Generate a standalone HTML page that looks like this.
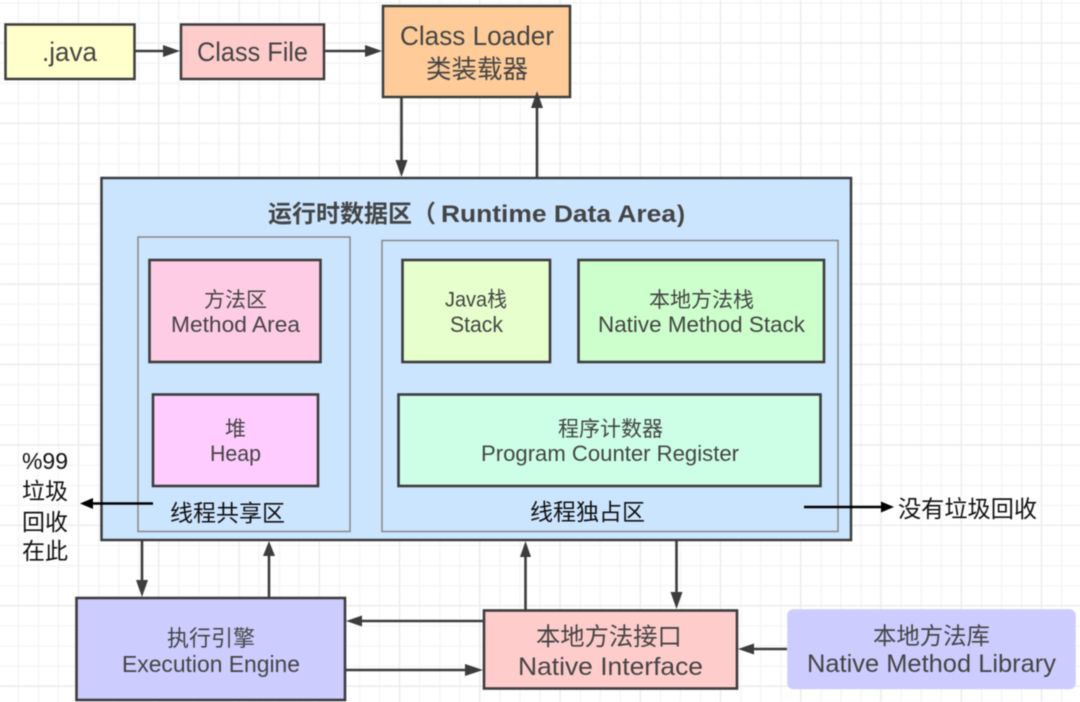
<!DOCTYPE html>
<html><head><meta charset="utf-8">
<style>
html,body{margin:0;padding:0;background:#fff;width:1080px;height:702px;overflow:hidden}
svg{display:block;filter:blur(.45px)}
text{font-family:"Liberation Sans","Noto Sans CJK SC",sans-serif;fill:#444;text-anchor:start}
.k{fill:#111}
</style></head><body>
<svg width="1080" height="702" viewBox="0 0 1080 702" xmlns="http://www.w3.org/2000/svg">
<defs>
<pattern id="g" patternUnits="userSpaceOnUse" x="0" y="0" width="80.25" height="80.4">
<path d="M18.5 0V80.4M38.5 0V80.4M58.5 0V80.4M0 3H80.25M0 23H80.25M0 63H80.25M0 83H80.25" stroke="#f5f5f5" stroke-width="1.5" fill="none"/>
<path d="M78.5 0V80.4M0 43H80.25" stroke="#ececec" stroke-width="1.5" fill="none"/>
</pattern>
</defs>
<rect width="1080" height="702" fill="#fff"/>
<rect width="1080" height="702" fill="url(#g)"/>

<!-- connectors -->
<g stroke="#3c3c3c" stroke-width="2.6" fill="none">
<path d="M135 51H165M325 51H367M401.5 97V162M537 178V106M142 540V582M269 598V555M525.5 610V555M676.5 540V594M484 621H360M345 670H469M787 649H752"/>
</g>
<g fill="#3c3c3c">
<path d="M180 51L163 45V57Z"/>
<path d="M382 51L365 45V57Z"/>
<path d="M401.5 177L395.5 160H407.5Z"/>
<path d="M142 597L136 580H148Z"/>
<path d="M269 541L263 556H275Z"/>
<path d="M525.5 541L520 557H531Z"/>
<path d="M676.5 609L670.5 592H682.500Z"/>
<path d="M346 621L362 615.5V626.500Z"/>
<path d="M483 670L465 664V676Z"/>
<path d="M738 649L754 643.500V654.500Z"/>
</g>

<!-- top row -->
<g stroke="#3c3c3c" stroke-width="2.500">
<rect x="5.500" y="24.500" width="129" height="54.500" fill="#ffffcc"/>
<rect x="181" y="24.500" width="143" height="54.500" fill="#ffcccc"/>
<rect x="383" y="6" width="187" height="91" fill="#ffcc99"/>
<rect x="101.500" y="178" width="749.500" height="362" fill="#cce5ff"/>
</g>
<path d="M537 91L531 108H543Z" fill="#3c3c3c"/>

<!-- groups -->
<rect x="138" y="237" width="212" height="294.500" fill="none" stroke="#888" stroke-width="1.500"/>
<rect x="382" y="240.500" width="456" height="291" fill="none" stroke="#888" stroke-width="1.500"/>

<!-- inner boxes -->
<g stroke="#3c3c3c" stroke-width="2.600">
<rect x="149.500" y="260" width="171" height="102" fill="#ffcce6"/>
<rect x="153" y="394.500" width="165" height="91.500" fill="#ffccff"/>
<rect x="402.500" y="260" width="147.500" height="102" fill="#e6ffcc"/>
<rect x="578.500" y="260" width="245.500" height="102" fill="#ccffcc"/>
<rect x="398.500" y="394.500" width="422" height="91.500" fill="#ccffe6"/>
<rect x="76.500" y="598" width="268.500" height="102" fill="#ccccff"/>
<rect x="484" y="610.500" width="253" height="78" fill="#ffcccc"/>
</g>
<rect x="787.500" y="609.500" width="288" height="79.500" rx="6" fill="#ccccff" stroke="#d8d8ff"/>

<!-- black annotations -->
<g stroke="#000" stroke-width="2.400" fill="none"><path d="M153 503.500H88M804 507H886"/></g>
<path d="M80 503.500L93 498V509Z" fill="#000"/>
<path d="M894 507L881 501.500V512.500Z" fill="#000"/>

<!-- text -->
<text x="42" y="61" font-size="27" textLength="55" lengthAdjust="spacingAndGlyphs">.java</text>
<text x="197" y="61" font-size="27" textLength="111" lengthAdjust="spacingAndGlyphs">Class File</text>
<text x="400" y="45" font-size="27" textLength="154" lengthAdjust="spacingAndGlyphs">Class Loader</text>
<text x="426" y="78" font-size="25.500">类装载器</text>

<text x="268" y="222" font-size="24" font-weight="bold">运行时数据区（</text>
<text x="441" y="222" font-size="24" font-weight="bold" textLength="235" lengthAdjust="spacingAndGlyphs">Runtime Data Area</text>
<text x="677" y="222" font-size="24" font-weight="bold">)</text>

<text x="204" y="307" font-size="21">方法区</text>
<text x="171" y="332" font-size="22" textLength="129" lengthAdjust="spacingAndGlyphs">Method Area</text>
<text x="225" y="436" font-size="21">堆</text>
<text x="210" y="461" font-size="22" textLength="51" lengthAdjust="spacingAndGlyphs">Heap</text>
<text x="445" y="306.500" font-size="21" textLength="62" lengthAdjust="spacingAndGlyphs">Java栈</text>
<text x="450" y="332" font-size="22" textLength="53" lengthAdjust="spacingAndGlyphs">Stack</text>
<text x="649" y="307" font-size="21">本地方法栈</text>
<text x="598" y="332" font-size="22" textLength="207" lengthAdjust="spacingAndGlyphs">Native Method Stack</text>
<text x="558" y="436" font-size="21">程序计数器</text>
<text x="481" y="461" font-size="22" textLength="258" lengthAdjust="spacingAndGlyphs">Program Counter Register</text>

<text class="k" x="170" y="521" font-size="23">线程共享区</text>
<text class="k" x="530" y="520" font-size="23">线程独占区</text>

<text x="167" y="646" font-size="22">执行引擎</text>
<text x="122" y="672" font-size="23" textLength="178" lengthAdjust="spacingAndGlyphs">Execution Engine</text>
<text x="536" y="645" font-size="24.300">本地方法接口</text>
<text x="518" y="675" font-size="25" textLength="185" lengthAdjust="spacingAndGlyphs">Native Interface</text>
<text x="873" y="644" font-size="23.400">本地方法库</text>
<text x="807" y="672" font-size="25" textLength="249" lengthAdjust="spacingAndGlyphs">Native Method Library</text>

<text class="k" x="22" y="469" font-size="23" textLength="46" lengthAdjust="spacingAndGlyphs">%99</text>
<text class="k" x="22" y="499" font-size="23">垃圾</text>
<text class="k" x="22" y="530" font-size="23">回收</text>
<text class="k" x="22" y="559" font-size="23">在此</text>
<text class="k" x="898" y="517" font-size="23.200">没有垃圾回收</text>
</svg>
</body></html>
